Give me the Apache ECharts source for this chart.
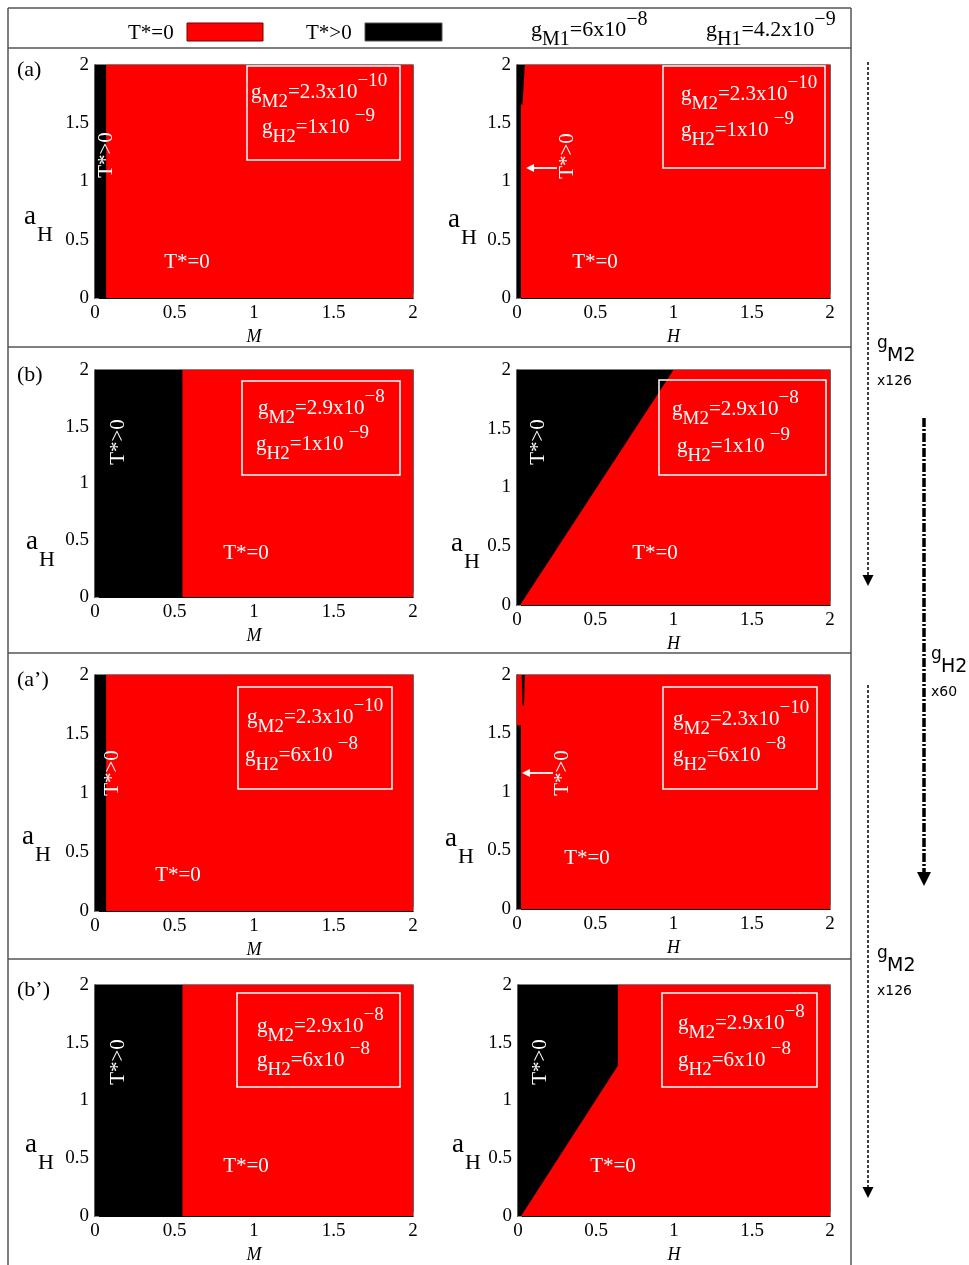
<!DOCTYPE html>
<html>
<head>
<meta charset="utf-8">
<script src="https://cdn.jsdelivr.net/npm/echarts@6/dist/echarts.min.js"></script>
<style>
  html, body { margin: 0; padding: 0; background: #fff; }
  #chart { width: 969px; height: 1265px; }
</style>
</head>
<body>
<div id="chart"></div>
<script>
// panel labels and parameter values
var panelTags = ['(a)', '(b)', '(a\u2019)', '(b\u2019)'];
var gM2Mant = ['2.3x10', '2.9x10', '2.3x10', '2.9x10'];
var gM2Exp = ['\u221210', '\u22128', '\u221210', '\u22128'];
var gH2Mant = ['1x10 ', '1x10 ', '6x10 ', '6x10 '];
var gH2Exp = ['\u22129', '\u22129', '\u22128', '\u22128'];
var xNames = ['M', 'H'];
var axisMin = 0, axisMax = 2, axisStep = 0.5;

// whole square is T*=0 (red), T*>0 regions (black) drawn on top
var fullSquare = [[0, 0], [2, 0], [2, 2], [0, 2]];
var blackA_M = [[0, 0], [0.07, 0], [0.07, 2], [0, 2]];
var blackA_H = [[0, 0], [0.025, 0], [0.025, 1.66], [0.035, 1.66], [0.05, 2], [0, 2]];
var blackB_M = [[0, 0], [0.55, 0], [0.55, 2], [0, 2]];
var blackB_H = [[0, 0], [0.02, 0], [1.0, 2], [0, 2]];
var blackA2_M = [[0, 0], [0.07, 0], [0.07, 2], [0, 2]];
var blackA2_H = [[0, 0], [0.025, 0], [0.025, 1.57], [0, 1.57]];
var blackA2_Hspike = [[0.03, 2], [0.05, 2], [0.045, 1.74], [0.035, 1.74]];
var blackB2_M = [[0, 0], [0.55, 0], [0.55, 2], [0, 2]];
var blackB2_H = [[0, 0], [0.02, 0], [0.64, 1.3], [0.64, 2], [0, 2]];

var blackRegions = [
  [blackA_M], [blackA_H],
  [blackB_M], [blackB_H],
  [blackA2_M], [blackA2_H, blackA2_Hspike],
  [blackB2_M], [blackB2_H]
];

var serif = '"Liberation Serif", "Times New Roman", serif';
var sans = '"DejaVu Sans", sans-serif';

// plot boxes in pixels: left, top, right, bottom
var plotBoxes = [
  [95, 65, 413, 298], [517, 65, 830, 298],
  [95, 370, 413, 597], [517, 370, 830, 605],
  [95, 675, 413, 911], [517, 675, 830, 909],
  [95, 985, 413, 1217], [518, 985, 830, 1217]
];

var grids = [], xAxes = [], yAxes = [], series = [];

function region(gi, pts, color) {
  return {
    type: 'custom',
    xAxisIndex: gi,
    yAxisIndex: gi,
    data: pts,
    silent: true,
    renderItem: function (params, api) {
      if (params.dataIndex > 0) return;
      return {
        type: 'polygon',
        shape: { points: pts.map(function (p) { return api.coord(p); }) },
        style: { fill: color }
      };
    }
  };
}

plotBoxes.forEach(function (b, i) {
  grids.push({
    left: b[0], top: b[1], width: b[2] - b[0], height: b[3] - b[1],
    show: true, borderColor: '#000', borderWidth: 1.2, backgroundColor: '#fff'
  });
  var axisCommon = {
    type: 'value', gridIndex: i, min: axisMin, max: axisMax, interval: axisStep,
    splitLine: { show: false },
    axisLine: { show: true, lineStyle: { color: '#000', width: 1.2 } },
    axisTick: { inside: true, length: 4, lineStyle: { color: '#888' } },
    minorTick: { show: true, splitNumber: 5, length: 2, lineStyle: { color: '#aaa' } },
    axisLabel: { fontFamily: serif, fontSize: 19, color: '#000', margin: 6 }
  };
  xAxes.push(Object.assign({}, axisCommon, {
    name: xNames[i % 2], nameLocation: 'middle', nameGap: 30,
    nameTextStyle: { fontFamily: serif, fontStyle: 'italic', fontSize: 18, color: '#000' }
  }));
  yAxes.push(Object.assign({}, axisCommon));
  series.push(region(i, fullSquare, '#ff0000'));
  blackRegions[i].forEach(function (r) { series.push(region(i, r, '#000000')); });
});

// annotation positions
var boxRects = [[247, 66, 400, 160], [663, 66, 825, 168], [242, 381, 400, 475], [659, 380, 826, 475],
  [238, 687, 392, 789], [663, 687, 817, 789], [237, 993, 400, 1087], [662, 993, 817, 1087]];
var boxLines = [[251, 92, 262, 127], [681, 94, 681, 130], [258, 408, 256, 444], [672, 409, 677, 446],
  [247, 717, 245, 755], [673, 719, 673, 755], [257, 1026, 257, 1060], [678, 1023, 678, 1060]];
var zeroPos = [[187, 262], [595, 262], [246, 553], [655, 553], [178, 875], [587, 858], [246, 1166], [613, 1166]];
var posPos = [[106, 155], [567, 156], [118, 442], [538, 442], [112, 773], [562, 773], [118, 1062], [540, 1062]];
var aHPos = [[24, 220], [448, 223], [26, 545], [451, 547], [22, 840], [445, 842], [25, 1148], [452, 1148]];
var tagPos = [[17, 70], [17, 375], [17, 680], [17, 990]];

function sciRich(size, subSize) {
  return {
    b: { fontSize: size, fontFamily: serif, fill: '#fff', lineHeight: 40 },
    s: { fontSize: subSize, fontFamily: serif, fill: '#fff', lineHeight: subSize, verticalAlign: 'bottom' },
    p: { fontSize: subSize, fontFamily: serif, fill: '#fff', lineHeight: subSize, verticalAlign: 'top' }
  };
}
function sciText(x, y, sub, mant, exp, size, subSize, color) {
  var rich = sciRich(size, subSize);
  if (color) { rich.b.fill = color; rich.s.fill = color; rich.p.fill = color; }
  return {
    type: 'text', x: x, y: y, z: 100,
    style: {
      text: '{b|g}{s|' + sub + '}{b|=' + mant + '}{p|' + exp + '}',
      verticalAlign: 'middle', rich: rich
    }
  };
}

var graphics = [];
// frame
[8, 48, 347, 653, 959].forEach(function (y) {
  graphics.push({ type: 'line', shape: { x1: 8, y1: y, x2: 851, y2: y }, style: { stroke: '#555', lineWidth: 1.5 } });
});
[8, 851].forEach(function (x) {
  graphics.push({ type: 'line', shape: { x1: x, y1: 8, x2: x, y2: 1265 }, style: { stroke: '#555', lineWidth: 1.5 } });
});

// legend row
graphics.push({ type: 'text', x: 128, y: 33, style: { text: 'T*=0', font: '21px ' + serif, fill: '#000', verticalAlign: 'middle' } });
graphics.push({ type: 'rect', shape: { x: 187, y: 23, width: 76, height: 18 }, style: { fill: '#ff0000', stroke: '#700', lineWidth: 1 } });
graphics.push({ type: 'text', x: 306, y: 33, style: { text: 'T*>0', font: '21px ' + serif, fill: '#000', verticalAlign: 'middle' } });
graphics.push({ type: 'rect', shape: { x: 365, y: 23, width: 77, height: 18 }, style: { fill: '#000', stroke: '#555', lineWidth: 1 } });
graphics.push(sciText(531, 30, 'M1', '6x10', '\u22128', 22, 20, '#000'));
graphics.push(sciText(706, 30, 'H1', '4.2x10', '\u22129', 22, 20, '#000'));

plotBoxes.forEach(function (b, i) {
  var row = Math.floor(i / 2);
  var r = boxRects[i];
  graphics.push({ type: 'rect', z: 100, shape: { x: r[0], y: r[1], width: r[2] - r[0], height: r[3] - r[1] },
    style: { fill: 'none', stroke: '#fff', lineWidth: 1.5 } });
  var l = boxLines[i];
  graphics.push(sciText(l[0], l[1], 'M2', gM2Mant[row], gM2Exp[row], 21, 19));
  graphics.push(sciText(l[2], l[3], 'H2', gH2Mant[row], gH2Exp[row], 21, 19));
  graphics.push({ type: 'text', z: 100, x: zeroPos[i][0], y: zeroPos[i][1],
    style: { text: 'T*=0', font: '21px ' + serif, fill: '#fff', align: 'center', verticalAlign: 'middle' } });
  graphics.push({ type: 'text', z: 100, x: posPos[i][0], y: posPos[i][1], rotation: Math.PI / 2,
    style: { text: 'T*>0', font: '21px ' + serif, fill: '#fff', align: 'center', verticalAlign: 'middle' } });
  graphics.push({ type: 'text', x: aHPos[i][0], y: aHPos[i][1] - 3,
    style: { text: 'a', font: '27px ' + serif, fill: '#000', verticalAlign: 'middle' } });
  graphics.push({ type: 'text', x: aHPos[i][0] + 13, y: aHPos[i][1] + 15,
    style: { text: 'H', font: '22px ' + serif, fill: '#000', verticalAlign: 'middle' } });
});
panelTags.forEach(function (t, k) {
  graphics.push({ type: 'text', x: tagPos[k][0], y: tagPos[k][1],
    style: { text: t, font: '22px ' + serif, fill: '#000', verticalAlign: 'middle' } });
});

// white arrows pointing at the thin T*>0 strip
[[557, 168, 526], [553, 773, 522]].forEach(function (a) {
  graphics.push({ type: 'line', z: 100, shape: { x1: a[0], y1: a[1], x2: a[2] + 6, y2: a[1] }, style: { stroke: '#fff', lineWidth: 1.8 } });
  graphics.push({ type: 'polygon', z: 100, shape: { points: [[a[2], a[1]], [a[2] + 8, a[1] - 4], [a[2] + 8, a[1] + 4]] }, style: { fill: '#fff' } });
});

// right column arrows
function vArrow(x, y1, y2, width, dash, head) {
  graphics.push({ type: 'line', shape: { x1: x, y1: y1, x2: x, y2: y2 - head }, style: { stroke: '#000', lineWidth: width, lineDash: dash } });
  graphics.push({ type: 'polygon', shape: { points: [[x - head * 0.5, y2 - head], [x + head * 0.5, y2 - head], [x, y2]] }, style: { fill: '#000' } });
}
vArrow(868, 62, 586, 1.5, [3, 2], 11);
vArrow(868, 685, 1198, 1.5, [3, 2], 11);
vArrow(924, 418, 886, 3.5, [9, 2, 2, 2], 14);

function sideLabel(x, y, sub, mult) {
  graphics.push({ type: 'text', x: x, y: y - 6, style: { text: 'g', font: '17px ' + sans, fill: '#000', verticalAlign: 'middle' } });
  graphics.push({ type: 'text', x: x + 10, y: y + 6, style: { text: sub, font: '19px ' + sans, fill: '#000', verticalAlign: 'middle' } });
  graphics.push({ type: 'text', x: x, y: y + 31, style: { text: mult, font: '14px ' + sans, fill: '#000', verticalAlign: 'middle' } });
}
sideLabel(877, 350, 'M2', 'x126');
sideLabel(931, 661, 'H2', 'x60');
sideLabel(877, 960, 'M2', 'x126');

var chart = echarts.init(document.getElementById('chart'));
chart.setOption({
  animation: false,
  grid: grids,
  xAxis: xAxes,
  yAxis: yAxes,
  series: series,
  graphic: graphics
});
</script>
</body>
</html>
